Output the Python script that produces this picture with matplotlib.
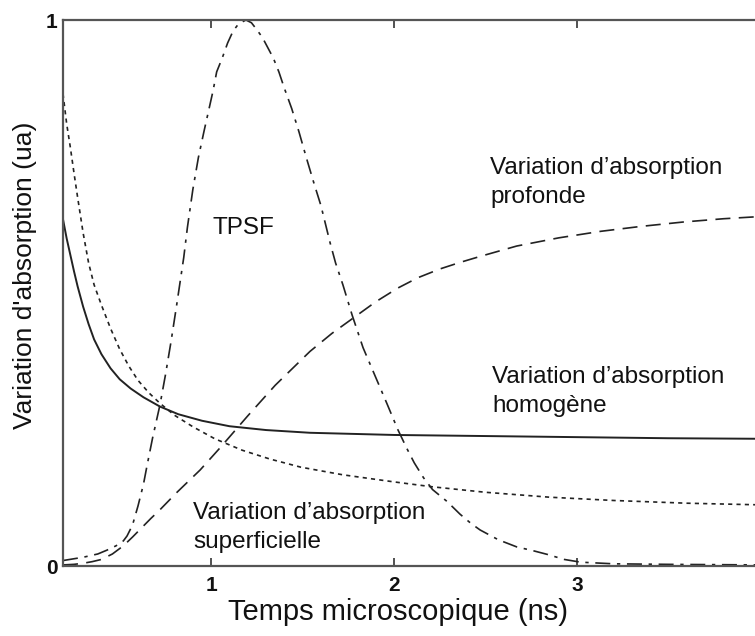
import matplotlib
matplotlib.use("Agg")
import matplotlib.pyplot as plt

plt.rcParams['font.family'] = ['Liberation Sans', 'DejaVu Sans']

# Time axis (ns) and absorption-change curves (arbitrary units)
t_tpsf = [0.19, 0.30, 0.38, 0.43, 0.48, 0.52, 0.54, 0.57, 0.60, 0.63, 0.65, 0.68,
          0.72, 0.75, 0.78, 0.81, 0.85, 0.87, 0.90, 0.93, 0.96, 0.98, 1.01, 1.03,
          1.06, 1.09, 1.12, 1.15, 1.19, 1.22, 1.25, 1.28, 1.31, 1.34, 1.37, 1.40,
          1.44, 1.48, 1.52, 1.56, 1.60, 1.65, 1.68, 1.72, 1.77, 1.83, 1.90, 1.96,
          2.02, 2.07, 2.11, 2.16, 2.21, 2.29, 2.36, 2.42, 2.47, 2.57, 2.67, 2.76,
          2.84, 2.93, 3.02, 3.20, 3.50, 4.00]
tpsf = [0.010, 0.016, 0.022, 0.029, 0.037, 0.046, 0.055, 0.075, 0.110, 0.150, 0.185, 0.235,
        0.295, 0.350, 0.410, 0.475, 0.565, 0.620, 0.690, 0.748, 0.795, 0.825, 0.870, 0.905,
        0.930, 0.958, 0.980, 0.993, 1.000, 0.995, 0.982, 0.968, 0.949, 0.930, 0.905, 0.875,
        0.838, 0.795, 0.748, 0.703, 0.660, 0.592, 0.555, 0.515, 0.460, 0.400, 0.345, 0.298,
        0.250, 0.215, 0.189, 0.162, 0.140, 0.118, 0.095, 0.078, 0.066, 0.048, 0.035, 0.028,
        0.021, 0.012, 0.007, 0.004, 0.003, 0.002]

t_homo = [0.19, 0.21, 0.23, 0.25, 0.27, 0.30, 0.33, 0.36, 0.40, 0.45, 0.50, 0.56,
          0.63, 0.72, 0.82, 0.95, 1.10, 1.30, 1.54, 2.00, 2.50, 3.00, 3.50, 4.00]
homogene = [0.635, 0.600, 0.570, 0.540, 0.512, 0.475, 0.443, 0.415, 0.388, 0.362, 0.342, 0.325,
            0.309, 0.292, 0.278, 0.266, 0.256, 0.249, 0.244, 0.240, 0.238, 0.236, 0.234, 0.233]

t_sup = [0.19, 0.21, 0.23, 0.25, 0.27, 0.30, 0.33, 0.36, 0.40, 0.45, 0.50, 0.55,
         0.60, 0.66, 0.72, 0.80, 0.90, 1.02, 1.17, 1.32, 1.49, 1.72, 2.00, 2.21,
         2.50, 2.85, 3.20, 3.60, 4.00]
superficielle = [0.865, 0.810, 0.767, 0.720, 0.675, 0.610, 0.555, 0.515, 0.478, 0.435, 0.397, 0.366,
                 0.340, 0.317, 0.298, 0.276, 0.255, 0.233, 0.212, 0.196, 0.181, 0.167, 0.154, 0.145,
                 0.135, 0.126, 0.120, 0.115, 0.112]

t_prof = [0.19, 0.25, 0.30, 0.35, 0.40, 0.46, 0.52, 0.57, 0.62, 0.67, 0.72, 0.81,
          0.94, 1.05, 1.20, 1.35, 1.54, 1.66, 1.78, 1.90, 2.02, 2.13, 2.25, 2.36,
          2.47, 2.67, 2.90, 3.13, 3.35, 3.58, 3.80, 4.00]
profonde = [0.002, 0.003, 0.005, 0.008, 0.012, 0.022, 0.037, 0.053, 0.070, 0.087, 0.103, 0.134,
            0.176, 0.217, 0.275, 0.331, 0.393, 0.426, 0.455, 0.484, 0.509, 0.528, 0.544, 0.556,
            0.567, 0.586, 0.601, 0.613, 0.622, 0.630, 0.636, 0.640]

x_ticks = [1, 2, 3, 4]
y_ticks = [0, 1]

fig = plt.figure(figsize=(7.55, 6.36), dpi=100)
ax = fig.add_axes([63 / 755, 70 / 636, 697 / 755, 546 / 636])

ink = '#222222'
ax.plot(t_tpsf, tpsf, color=ink, lw=1.2, linestyle=(0, (9, 4, 2, 4)))
ax.plot(t_homo, homogene, color=ink, lw=1.4, linestyle='-')
ax.plot(t_sup, superficielle, color=ink, lw=1.2, linestyle=(0, (2.5, 2.5)))
ax.plot(t_prof, profonde, color=ink, lw=1.2, linestyle=(0, (9, 5)))

ax.set_xlim(0.19, 4.0)
ax.set_ylim(0, 1)
ax.set_xticks(x_ticks)
ax.set_yticks(y_ticks)
ax.set_xticklabels([str(v) for v in x_ticks])
ax.set_yticklabels([str(v) for v in y_ticks])
ax.tick_params(axis='both', direction='in', length=6, width=1.2, colors='#333333',
               labelsize=15, top=True, right=False)
for lab in ax.get_xticklabels() + ax.get_yticklabels():
    lab.set_fontweight('bold')
    lab.set_color('#111111')
ax.tick_params(axis='x', pad=7)
ax.tick_params(axis='y', pad=4)

for s in ax.spines.values():
    s.set_color('#555555')
    s.set_linewidth(1.6)

fig.text(398 / 755, 1 - 612 / 636, 'Temps microscopique (ns)', fontsize=21,
         ha='center', va='center', color='#111111')
fig.text(25 / 755, 1 - 275 / 636, "Variation d'absorption (ua)", fontsize=19,
         ha='center', va='center', rotation=90, color='#111111')

txt = dict(fontsize=17.5, color='#111111', va='center', ha='left', linespacing=1.42)
ax.text(1.005, 0.619, 'TPSF', **txt)
ax.text(2.525, 0.703, "Variation d’absorption\nprofonde", **txt)
ax.text(2.535, 0.32, "Variation d’absorption\nhomogène", **txt)
ax.text(0.90, 0.071, "Variation d’absorption\nsuperficielle", **txt)

fig.savefig('out.png', dpi=100, facecolor='white')
